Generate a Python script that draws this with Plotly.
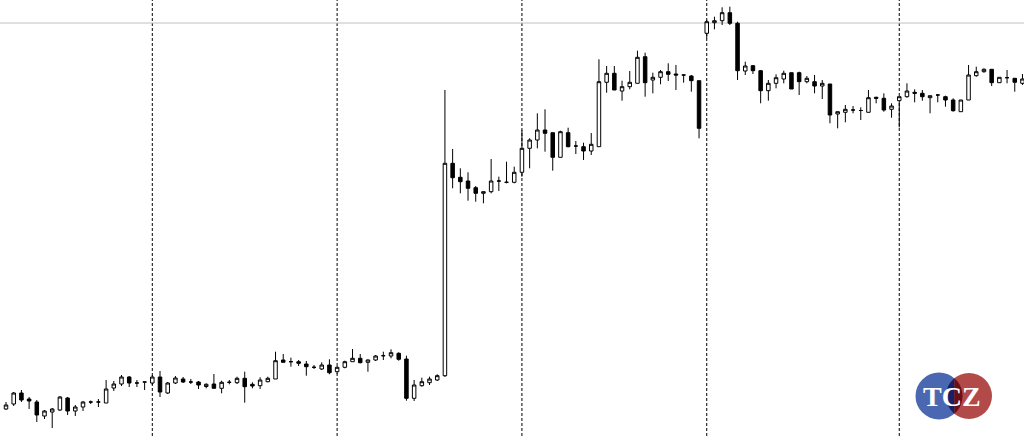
import numpy as np
import plotly.graph_objects as go

# ---- data (bar index, OHLC in chart price units) ----
bars = list(range(133))
opens = [31, 36, 47, 41, 38, 24, 28, 30, 42, 29, 33, 38, 38, 37, 52, 56, 63, 57, 58, 57,
         63, 47, 57, 61, 58, 58, 53.5, 56, 51.7, 57.7, 57.3, 61.7, 55.7, 54.3, 58.3, 61, 80, 78.3, 78.3, 76,
         72.7, 71, 75, 68.3, 72.7, 78.3, 81.7, 77.7, 80, 84.3, 84, 86.7, 81, 41.7, 54.3, 57.3, 60, 64.3, 276.7, 262.7,
         259, 252.3, 246.7, 248.3, 259, 257.7, 257.7, 267.7, 291.7, 300, 310, 307.3, 282.7, 307.3, 294, 293.3, 289, 293.3, 357.7, 366.7,
         349, 353.3, 356.7, 383.3, 360, 362.7, 368.3, 366, 365, 364, 359.3, 406.7, 417.3, 419.3, 427.3, 416.7, 369, 374.3, 369.3, 349.3,
         356.7, 361, 367.3, 367.3, 358.3, 358.3, 354, 356, 326, 327.7, 330, 329.5, 327.7, 342.7, 341.7, 330.7, 339.3, 343.3, 347.7, 346.7,
         342.3, 345, 343.3, 340, 328.3, 340, 364.3, 368.3, 370.7, 357.3, 362.3, 361.7, 356.7]
highs = [38, 48, 50, 43, 40, 30, 32, 44, 43, 35, 39, 39.5, 41, 60, 59, 65, 64, 60, 58, 65,
         69, 58, 64, 63, 61, 59, 56.7, 66, 59.3, 60, 63.3, 68.3, 57.7, 62.7, 63.3, 88.3, 86, 82.3, 80, 79,
         75, 77.7, 80.7, 74, 79.3, 91, 86, 80.7, 85, 88.3, 90.7, 87.7, 84.3, 60, 62.3, 63.3, 65.7, 350, 291, 271.7,
         267.7, 254, 248.3, 281, 263.3, 278.3, 273.3, 310, 301.7, 326.7, 330.7, 307.3, 309.3, 312.3, 299, 297.3, 307, 380.7, 374, 374,
         359.3, 369, 389.3, 387.3, 367.3, 370, 376.7, 375, 365, 365, 359.3, 420, 423.3, 432.7, 433.3, 418.3, 378.3, 375, 370, 360,
         365.7, 369.3, 367.3, 368.3, 364, 365, 360, 356, 328.3, 335, 334, 332.7, 350, 343.3, 346.7, 336.7, 343.3, 356.7, 350.7, 350,
         344.3, 345.7, 344.3, 341.7, 340, 375, 373.3, 371.7, 370.7, 362.7, 370, 361.7, 366]
lows = [30, 34, 38, 31, 18, 21, 12, 29, 25, 24, 29, 36, 33, 37, 49, 54, 53, 53, 50, 55,
        43, 46, 56, 57, 56, 51, 51.7, 51.7, 46.7, 55.7, 56, 37.3, 51.7, 51, 57.7, 61, 77.7, 73.3, 74, 64.3,
        71, 70, 65.7, 66, 71.7, 78.3, 76.7, 68.3, 79, 80, 81.7, 79.3, 39.3, 39, 53.3, 55, 59, 63, 251.7, 246.7,
        239.3, 238.3, 236.7, 246.7, 249, 256.7, 256.7, 263.3, 271.7, 291.7, 288.3, 269.3, 282.7, 292.7, 286, 280, 285, 293.3, 347.3, 350,
        339.3, 350.7, 356.7, 343.3, 346.7, 355.7, 359, 350, 357.3, 348.3, 301.7, 401.7, 410.7, 415, 415, 360, 365, 366, 336.7, 339.3,
        351.7, 356.7, 351, 345, 356.7, 346.7, 341, 316.7, 311.7, 317.7, 326.7, 320, 327.7, 336.7, 328.3, 322.3, 312.7, 342.3, 337.7, 339.3,
        326.7, 337.7, 333.3, 328.3, 328.3, 340, 363.3, 367.3, 354, 357.3, 356.7, 348.3, 355]
closes = [35, 47, 40, 39, 25, 29, 31, 43, 29, 33, 38, 38, 38, 51, 56, 63, 57, 57, 58, 63,
          48, 57, 62, 58, 58, 55, 55.7, 51.7, 57.7, 57.7, 61.7, 53.3, 54, 60, 61.7, 79.3, 77.7, 78.3, 76.7, 73.3,
          72.7, 75, 67.3, 72.7, 78.3, 81.7, 77.3, 80, 84, 84.3, 87.3, 80.7, 41.7, 55, 58.3, 61, 64.3, 276.7, 262.3, 258.3,
          251.7, 246.7, 248.3, 259, 259, 257.7, 267.7, 291.7, 300, 310, 306.7, 282.7, 308.3, 293.3, 294, 289, 295.7, 358.3, 366.7, 350,
          353.3, 357.7, 382.7, 357.3, 362.7, 368.3, 365.7, 365, 365, 359.3, 311.7, 418.3, 419.3, 427.3, 416.7, 369.3, 374, 369.3, 349.3, 356.7,
          362.3, 366.7, 351, 358.3, 361.7, 354, 356.7, 325, 328.3, 330.7, 330, 329.5, 342.3, 341.7, 330, 334, 343.3, 349, 346.7, 343.3,
          344.3, 345, 340, 329.3, 340, 365, 368.3, 370.7, 357.3, 362.7, 362.3, 357.7, 361]
day_separators = [19, 43, 67, 91, 116]
hline_level = 417

fig = go.Figure()
fig.add_trace(go.Candlestick(
    x=bars, open=opens, high=highs, low=lows, close=closes,
    increasing=dict(line=dict(color="black", width=1), fillcolor="white"),
    decreasing=dict(line=dict(color="black", width=1), fillcolor="black"),
    whiskerwidth=0, hoverinfo="skip", showlegend=False,
))

for d in day_separators:
    fig.add_shape(type="line", xref="x", yref="paper", x0=d, x1=d, y0=0, y1=1,
                  line=dict(color="black", width=1, dash="3px,2px"), layer="below")
fig.add_shape(type="line", xref="paper", yref="y", x0=0, x1=1, y0=hline_level, y1=hline_level,
              line=dict(color="#c0c0c0", width=1), layer="below")

# ---- TCZ logo (pixel geometry -> paper coords) ----
W, H = 1024, 436
def px(x):
    return x / W
def py(y):
    return 1 - y / H

ax_, ay_, ra = 939.0, 396.0, 23.5
bx_, by_, rb = 969.0, 396.0, 23.0
fig.add_shape(type="circle", xref="paper", yref="paper",
              x0=px(ax_ - ra), x1=px(ax_ + ra), y0=py(ay_ + ra), y1=py(ay_ - ra),
              fillcolor="rgb(74,104,178)", line=dict(width=0), layer="above")
fig.add_shape(type="circle", xref="paper", yref="paper",
              x0=px(bx_ - rb), x1=px(bx_ + rb), y0=py(by_ + rb), y1=py(by_ - rb),
              fillcolor="rgb(178,74,74)", line=dict(width=0), layer="above")

def lens_path(xa, xb):
    xs = np.linspace(xa, xb, 40)
    hA = np.sqrt(np.clip(ra**2 - (xs - ax_)**2, 0, None))
    hB = np.sqrt(np.clip(rb**2 - (xs - bx_)**2, 0, None))
    h = np.minimum(hA, hB)
    top = [(x, ay_ - hh) for x, hh in zip(xs, h)]
    bot = [(x, ay_ + hh) for x, hh in zip(xs[::-1], h[::-1])]
    pts = top + bot
    s = "M " + " L ".join(f"{px(x):.5f},{py(y):.5f}" for x, y in pts) + " Z"
    return s

xl, xr = bx_ - rb, ax_ + ra
xm = 954.5
fig.add_shape(type="path", xref="paper", yref="paper", path=lens_path(xl, xm),
              fillcolor="rgb(22,32,102)", line=dict(width=0), layer="above")
fig.add_shape(type="path", xref="paper", yref="paper", path=lens_path(xm, xr),
              fillcolor="rgb(104,16,22)", line=dict(width=0), layer="above")

fig.add_annotation(x=px(952), y=py(396), xref="paper", yref="paper", text="<b>TCZ</b>",
                   showarrow=False, xanchor="center", yanchor="middle",
                   font=dict(family="Liberation Serif", size=28, color="white"))

fig.update_layout(
    width=W, height=H,
    margin=dict(l=0, r=0, t=0, b=0),
    paper_bgcolor="white", plot_bgcolor="white",
    xaxis=dict(visible=False, range=[-0.78, 132.2], rangeslider=dict(visible=False), fixedrange=True),
    yaxis=dict(visible=False, range=[4, 440], fixedrange=True),
    boxgap=0.35,
    showlegend=False,
)

fig.write_html("out.html", config={"displayModeBar": False},
               post_script="document.body.style.margin='0';document.body.style.overflow='hidden';")
